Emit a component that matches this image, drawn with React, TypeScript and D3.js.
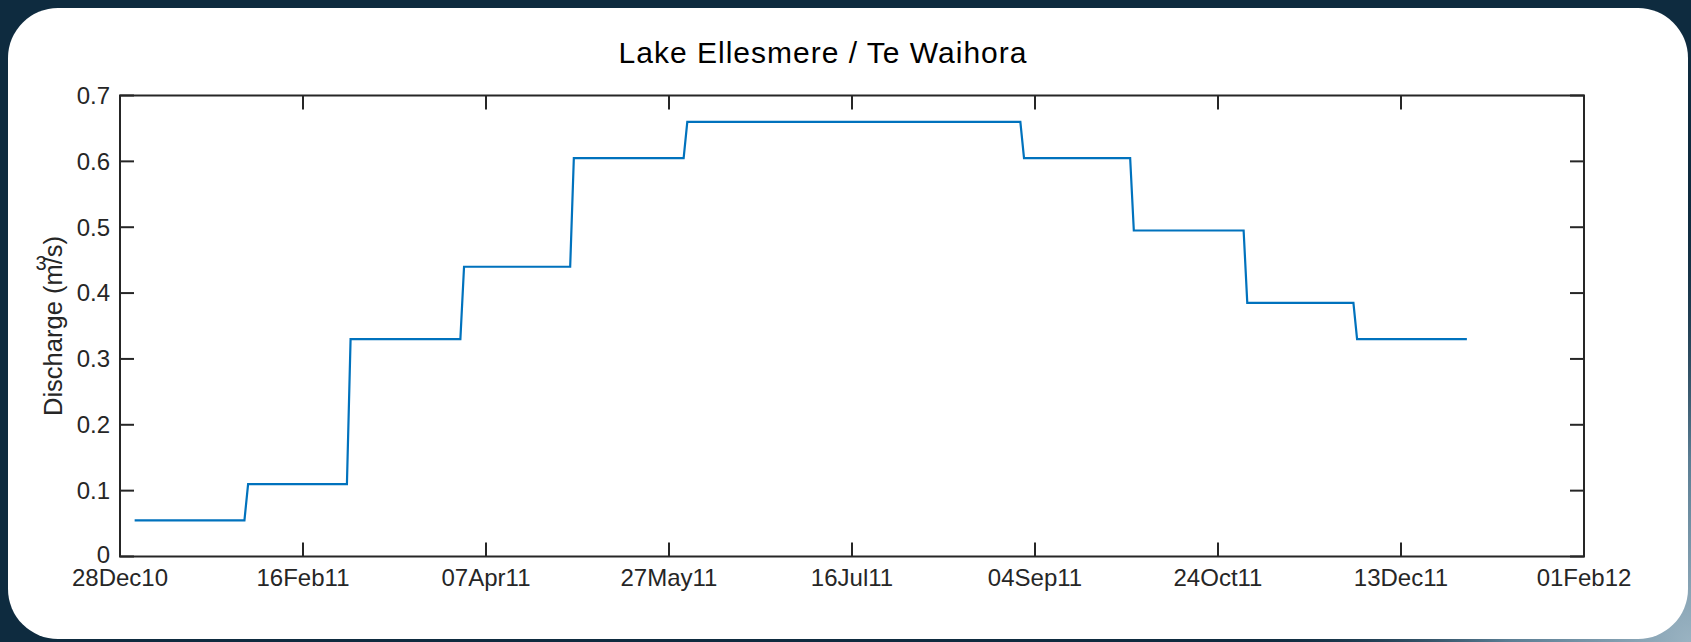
import React from "react";
import * as d3 from "d3";

// ---- data ----
const monthStarts: string[] = [
  "2011-01-01", "2011-02-01", "2011-03-01", "2011-04-01", "2011-05-01", "2011-06-01",
  "2011-07-01", "2011-08-01", "2011-09-01", "2011-10-01", "2011-11-01", "2011-12-01",
];
const dischargeValues: number[] = [
  0.055, 0.11, 0.33, 0.44, 0.605, 0.66, 0.66, 0.66, 0.605, 0.495, 0.385, 0.33,
];
const xTickLabels: string[] = [
  "28Dec10", "16Feb11", "07Apr11", "27May11", "16Jul11", "04Sep11", "24Oct11", "13Dec11", "01Feb12",
];
const yTickValues: number[] = [0, 0.1, 0.2, 0.3, 0.4, 0.5, 0.6, 0.7];
const titleText = "Lake Ellesmere / Te Waihora";

const W = 1691;
const H = 642;
const FONT = "'Liberation Sans', Arial, Helvetica, sans-serif";
const AX = "#262626";

const parseLabel = d3.utcParse("%d%b%y");
const parseDay = d3.utcParse("%Y-%m-%d");

export default function App() {
  const x = d3
    .scaleUtc()
    .domain([parseLabel("28Dec10") as Date, parseLabel("01Feb12") as Date])
    .range([120, 1584]);
  const y = d3.scaleLinear().domain([0, 0.7]).range([556.5, 95.5]);

  // each month: first day and last day at the month's value
  const pts: [Date, number][] = [];
  monthStarts.forEach((m, i) => {
    const s = parseDay(m) as Date;
    const e = d3.utcDay.offset(d3.utcMonth.offset(s, 1), -1);
    pts.push([s, dischargeValues[i]]);
    pts.push([e, dischargeValues[i]]);
  });
  const line = d3
    .line<[Date, number]>()
    .x((d) => x(d[0]))
    .y((d) => y(d[1]));

  const xTicks = xTickLabels.map((l) => ({ label: l, d: parseLabel(l) as Date }));
  const [x0, x1] = x.range();
  const [yb, yt] = y.range();
  const tl = 14;

  return (
    <svg
      width={W}
      height={H}
      style={{ position: "absolute", left: 0, top: 0, display: "block" }}
      fontFamily={FONT}
    >
      <defs>
        <radialGradient id="bgGlow" cx={W} cy={H} r={460} gradientUnits="userSpaceOnUse">
          <stop offset="0" stopColor="#9ab3c2" />
          <stop offset="0.4" stopColor="#5a7d93" />
          <stop offset="1" stopColor="#0e2b3f" stopOpacity="0" />
        </radialGradient>
      </defs>
      <rect x={0} y={0} width={W} height={H} fill="#0e2b3f" />
      <rect x={0} y={0} width={W} height={H} fill="url(#bgGlow)" />
      <rect x={8} y={8} width={1680} height={631} rx={50} ry={50} fill="#ffffff" />

      <text
        x={823}
        y={62.5}
        textAnchor="middle"
        fontSize={30}
        letterSpacing={1}
        fill="#000"
      >
        {titleText}
      </text>

      {/* data line */}
      <path d={line(pts) || ""} fill="none" stroke="#0072BD" strokeWidth={2.2} />

      {/* axes box */}
      <rect x={x0} y={yt} width={x1 - x0} height={yb - yt} fill="none" stroke={AX} strokeWidth={2} />

      {/* y ticks */}
      {yTickValues.map((v) => (
        <g key={"y" + v}>
          <line x1={x0} x2={x0 + tl} y1={y(v)} y2={y(v)} stroke={AX} strokeWidth={2} />
          <line x1={x1} x2={x1 - tl} y1={y(v)} y2={y(v)} stroke={AX} strokeWidth={2} />
          <text
            x={x0 - 10}
            y={v === 0 ? y(v) - 2 : y(v)}
            dy="0.35em"
            textAnchor="end"
            fontSize={24}
            fill={AX}
          >
            {v === 0 ? "0" : d3.format(".1f")(v)}
          </text>
        </g>
      ))}

      {/* x ticks */}
      {xTicks.map((t) => (
        <g key={t.label}>
          <line x1={x(t.d)} x2={x(t.d)} y1={yb} y2={yb - tl} stroke={AX} strokeWidth={2} />
          <line x1={x(t.d)} x2={x(t.d)} y1={yt} y2={yt + tl} stroke={AX} strokeWidth={2} />
          <text x={x(t.d)} y={586} textAnchor="middle" fontSize={24} fill={AX}>
            {t.label}
          </text>
        </g>
      ))}

      {/* y label */}
      <text
        transform="translate(62,326) rotate(-90)"
        textAnchor="middle"
        fontSize={25.5}
        fill={AX}
      >
        Discharge (m/s)
      </text>
      <text x={41} y={270} textAnchor="middle" fontSize={20} fill={AX}>
        3
      </text>
    </svg>
  );
}
